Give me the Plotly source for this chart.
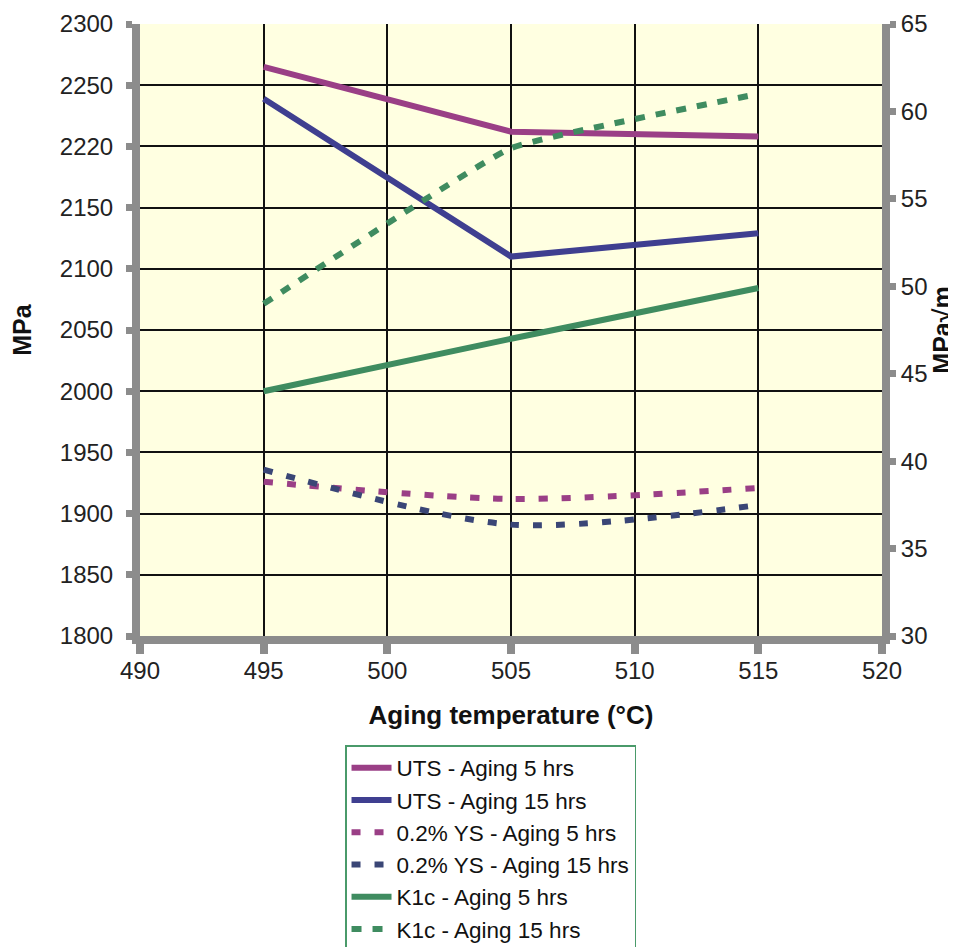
import plotly.graph_objects as go

temps = [495, 505, 515]
uts_5 = [2265, 2212, 2208]
uts_15 = [2239, 2110, 2129]
ys_5 = [1926, 1912, 1921]
ys_15 = [1936, 1891, 1907]
k1c_5 = [44.0, 47.0, 49.9]
k1c_15 = [49.0, 57.9, 61.0]

left_ticks = [1800, 1850, 1900, 1950, 2000, 2050, 2100, 2150, 2200, 2250, 2300]
left_ticktext = ["1800", "1850", "1900", "1950", "2000", "2050", "2100", "2150", "2220", "2250", "2300"]
right_ticks = [30, 35, 40, 45, 50, 55, 60, 65]
x_ticks = [490, 495, 500, 505, 510, 515, 520]

PURPLE = "#9A3F86"
BLUE = "#3F3F90"
NAVY = "#3A4676"
GREEN = "#3F8C60"
AXIS_GRAY = "#8C8C8C"
DOT_YS = "9px,14px"
DOT_K = "10px,11px"
FONT = "Liberation Sans, Arial, sans-serif"

fig = go.Figure()
fig.add_trace(go.Scatter(x=temps, y=uts_5, name="UTS - Aging 5 hrs", mode="lines",
                         line=dict(color=PURPLE, width=6)))
fig.add_trace(go.Scatter(x=temps, y=uts_15, name="UTS - Aging 15 hrs", mode="lines",
                         line=dict(color=BLUE, width=6)))
fig.add_trace(go.Scatter(x=temps, y=ys_5, name="0.2% YS - Aging 5 hrs", mode="lines",
                         line=dict(color=PURPLE, width=6, dash=DOT_YS, shape="spline", smoothing=0.8)))
fig.add_trace(go.Scatter(x=temps, y=ys_15, name="0.2% YS - Aging 15 hrs", mode="lines",
                         line=dict(color=NAVY, width=6, dash=DOT_YS, shape="spline", smoothing=0.8)))
fig.add_trace(go.Scatter(x=temps, y=k1c_5, name="K1c - Aging 5 hrs", mode="lines", yaxis="y2",
                         line=dict(color=GREEN, width=6)))
fig.add_trace(go.Scatter(x=temps, y=k1c_15, name="K1c - Aging 15 hrs", mode="lines", yaxis="y2",
                         line=dict(color=GREEN, width=6, dash=DOT_K, shape="spline", smoothing=0.3)))

tickfont = dict(family=FONT, size=24, color="#222222")
titlefont = dict(family=FONT, size=25, color="#111111", weight="bold")

fig.update_layout(
    width=956, height=947,
    paper_bgcolor="white",
    plot_bgcolor="#FFFFE1",
    margin=dict(l=132, r=82, t=16, b=319, autoexpand=False),
    font=dict(family=FONT, color="#222222"),
    xaxis=dict(
        range=[490, 520], tickvals=x_ticks, tickfont=tickfont, automargin=False,
        showgrid=True, gridcolor="#111111", gridwidth=1.5,
        showline=True, linecolor=AXIS_GRAY, linewidth=8,
        ticks="outside", ticklen=10, tickwidth=8, tickcolor=AXIS_GRAY,
        ticklabelstandoff=-4,
        zeroline=False,
        title=dict(text="Aging temperature (°C)", font=dict(family=FONT, size=26, color="#111111", weight="bold"), standoff=26),
    ),
    yaxis=dict(
        range=[1800, 2300], tickvals=left_ticks, ticktext=left_ticktext, tickfont=tickfont, automargin=False,
        showgrid=True, gridcolor="#111111", gridwidth=1.5,
        showline=True, linecolor=AXIS_GRAY, linewidth=8,
        ticks="outside", ticklen=6, tickwidth=7, tickcolor=AXIS_GRAY,
        ticklabelstandoff=8,
        zeroline=False,
        title=dict(text="MPa", font=titlefont, standoff=26),
    ),
    yaxis2=dict(
        range=[30, 65], tickvals=right_ticks, tickfont=tickfont, automargin=False,
        overlaying="y", side="right", showgrid=False,
        showline=True, linecolor=AXIS_GRAY, linewidth=8,
        ticks="outside", ticklen=6, tickwidth=7, tickcolor=AXIS_GRAY,
        zeroline=False,
        title=dict(text="MPa√m", font=titlefont, standoff=6),
    ),
    legend=dict(
        x=0.4724, xanchor="center", xref="paper",
        y=(947 - 737) / 947, yanchor="top", yref="container",
        bgcolor="white", bordercolor="#4A9A6A", borderwidth=1.5,
        font=dict(family=FONT, size=22.5, color="#111111"),
        tracegroupgap=0, itemwidth=40,
    ),
    showlegend=True,
)

fig.write_html("out.html")
